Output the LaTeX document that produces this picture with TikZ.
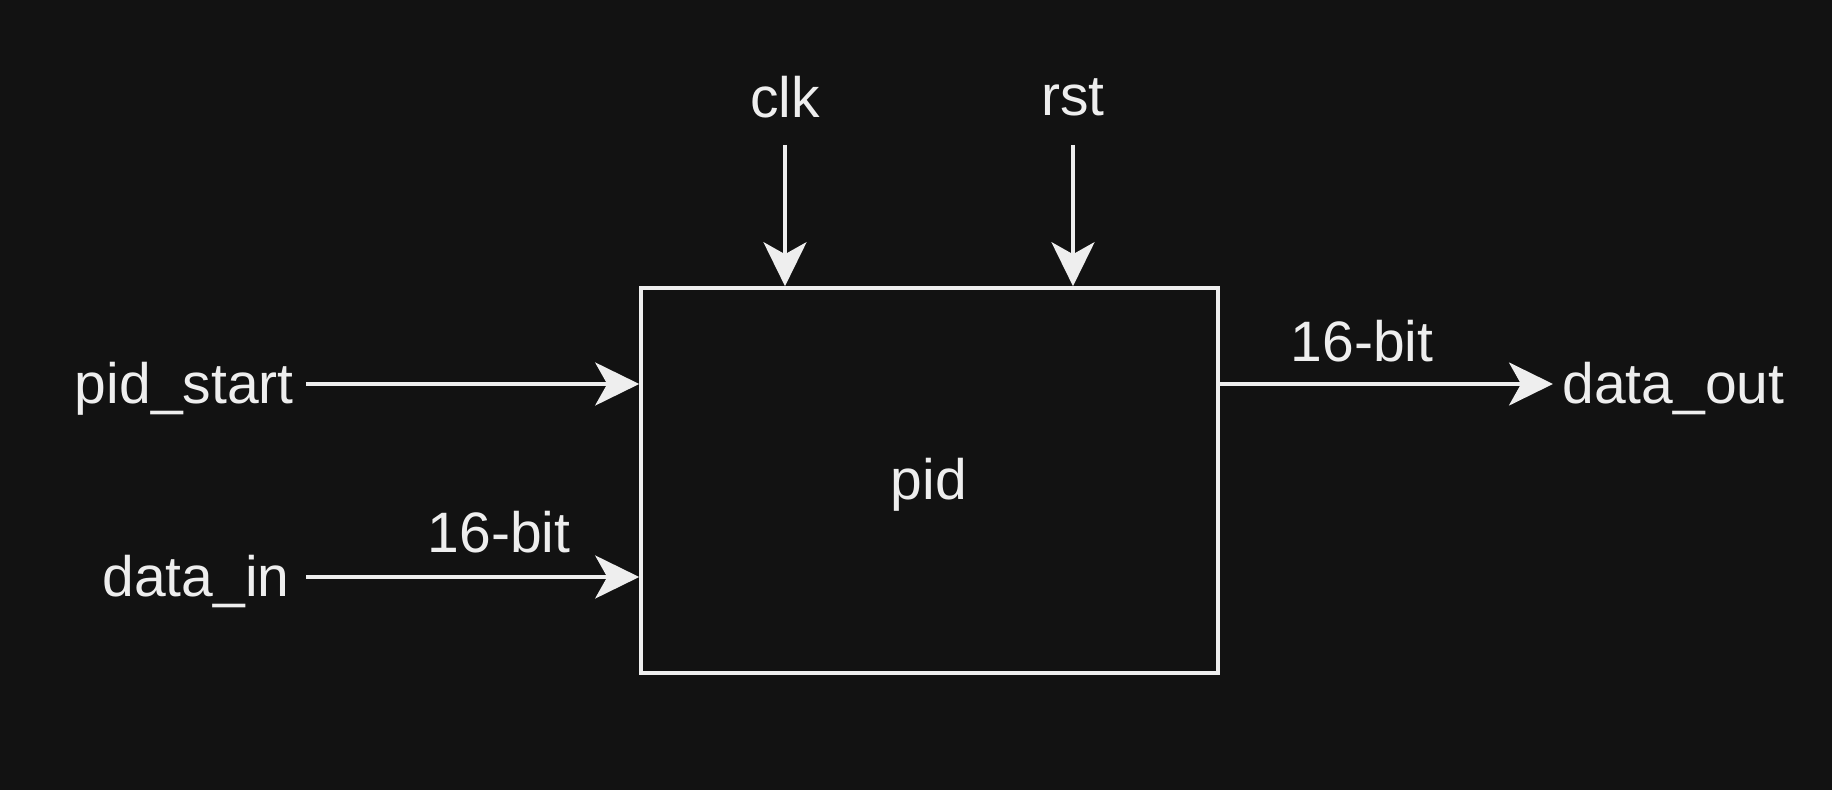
\documentclass[tikz,border=0pt]{standalone}
\usepackage{fontspec}
\setmainfont{Liberation Sans}
\usetikzlibrary{arrows.meta}
\definecolor{bg}{HTML}{121212}
\definecolor{fg}{HTML}{EEEEEE}
\begin{document}
\begin{tikzpicture}[x=0.5pt,y=-0.5pt,
  lbl/.style={text=fg,font=\fontsize{28.5}{34}\selectfont,inner sep=0pt},
  wire/.style={draw=fg,line width=1.8pt,-{Stealth[length=22pt,width=21.5pt,inset=6pt]}},
  blk/.style={draw=fg,line width=1.8pt,minimum width=288.5pt,minimum height=192.5pt,inner sep=0pt}]
\fill[bg] (0,0) rectangle (1832,790);
\useasboundingbox (0,0) rectangle (1832,790);
\node[blk] (pid) at (929.5,480.5) {};
\node[lbl] at (929,485) (pidl) {pid};
\node[lbl,anchor=east] (ps) at (294,389) {pid\_start};
\node[lbl,anchor=east] (di) at (290,582) {data\_in};
\node[lbl,anchor=west] (do) at (1562,389) {data\_out};
\node[lbl] (clk) at (785,97) {clk};
\node[lbl] (rst) at (1073,97) {rst};
\node[lbl] (b1) at (499,532) {16-bit};
\node[lbl] (b2) at (1362,341) {16-bit};
\coordinate (psS) at (306,384);
\coordinate (diS) at (306,577);
\coordinate (clkS) at (785,145);
\coordinate (rstS) at (1073,145);
\coordinate (doE) at (1553,384);
\draw[wire] (psS) -- (psS -| pid.west);
\draw[wire] (diS) -- (diS -| pid.west);
\draw[wire] (clkS) -- (clkS |- pid.north);
\draw[wire] (rstS) -- (rstS |- pid.north);
\draw[wire] (doE -| pid.east) -- (doE);
\end{tikzpicture}
\end{document}
